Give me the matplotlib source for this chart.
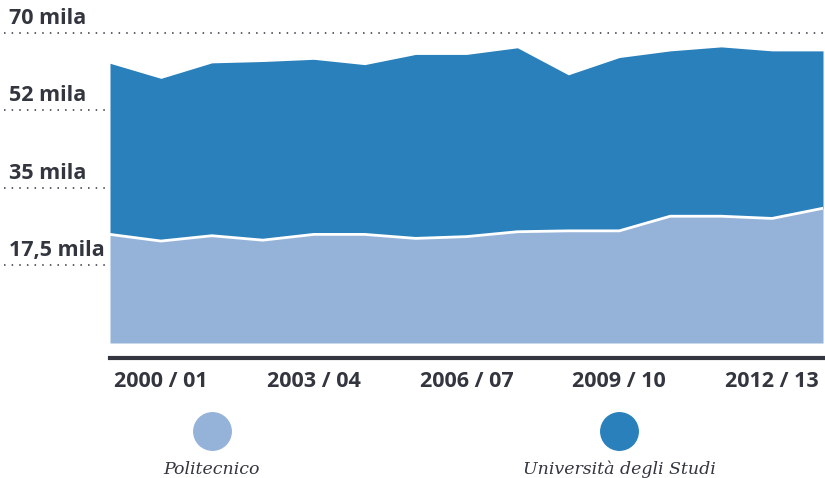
import matplotlib.pyplot as plt
from matplotlib.lines import Line2D

# anni accademici 1999/00 - 2013/14, valori in migliaia di iscritti
anni = ['1999 / 00', '2000 / 01', '2001 / 02', '2002 / 03', '2003 / 04', '2004 / 05',
        '2005 / 06', '2006 / 07', '2007 / 08', '2008 / 09', '2009 / 10', '2010 / 11',
        '2011 / 12', '2012 / 13', '2013 / 14']
politecnico = [24.5, 23.0, 24.2, 23.2, 24.5, 24.5, 23.6, 24.0, 25.1, 25.3, 25.3, 28.6, 28.6, 28.1, 30.4]
universita = [38.6, 36.7, 39.0, 40.3, 39.5, 38.3, 41.5, 41.1, 41.5, 35.2, 39.1, 37.3, 38.2, 37.8, 35.5]

griglia = [17.5, 35, 52.5, 70]
etichette_y = ['17,5 mila', '35 mila', '52 mila', '70 mila']
tick_idx = [1, 4, 7, 10, 13]

chiaro = '#95b3d9'
scuro = '#2980bb'
testo = '#33363f'

x = list(range(len(anni)))
totale = [p + u for p, u in zip(politecnico, universita)]

fig = plt.figure(figsize=(8.25, 4.78), dpi=100)
ax = fig.add_axes([110 / 825, 1 - 343 / 478, 713 / 825, 310.3 / 478])

# spine in basso staccato dall'area (prima dei tick, altrimenti li resetta)
for s in ['top', 'left', 'right']:
    ax.spines[s].set_visible(False)
ax.spines['bottom'].set_position(('outward', 11))
ax.spines['bottom'].set_linewidth(3)
ax.spines['bottom'].set_color(testo)

# griglia a puntini, anche fuori dall'area
for v, lab in zip(griglia, etichette_y):
    ax.axhline(v, xmin=-0.148, xmax=1.0, clip_on=False, color=testo,
               lw=1.1, ls=(0, (1, 4)), zorder=0)
    ax.annotate(lab, xy=(0, v), xycoords=('figure pixels', 'data'),
                xytext=(9, 4), textcoords='offset pixels', ha='left', va='bottom',
                fontsize=15.5, fontweight='bold', family='Open Sans', color=testo,
                annotation_clip=False)

ax.fill_between(x, 0, politecnico, color=chiaro, lw=0, zorder=2)
ax.fill_between(x, politecnico, totale, color=scuro, lw=0, zorder=2)
ax.plot(x, politecnico, color='white', lw=2, zorder=3)

ax.set_xlim(0, len(anni) - 1)
ax.set_ylim(0, 70)
ax.set_yticks([])
ax.set_xticks(tick_idx)
ax.set_xticklabels([anni[i] for i in tick_idx], fontsize=15.5, fontweight='bold',
                   family='Open Sans', color=testo)
ax.tick_params(axis='x', length=0, pad=9)
ax.patch.set_alpha(0)

# legenda
for cx, col, lab in [(212, chiaro, 'Politecnico'), (619, scuro, 'Università degli Studi')]:
    fig.add_artist(Line2D([cx / 825], [1 - 431 / 478], marker='o', markersize=27,
                          color=col, lw=0, transform=fig.transFigure))
    fig.text(cx / 825, 1 - 474 / 478, lab, ha='center', va='baseline', fontsize=12.5,
             style='italic', family='DejaVu Serif', color=testo)

plt.savefig('out.png', dpi=100)
